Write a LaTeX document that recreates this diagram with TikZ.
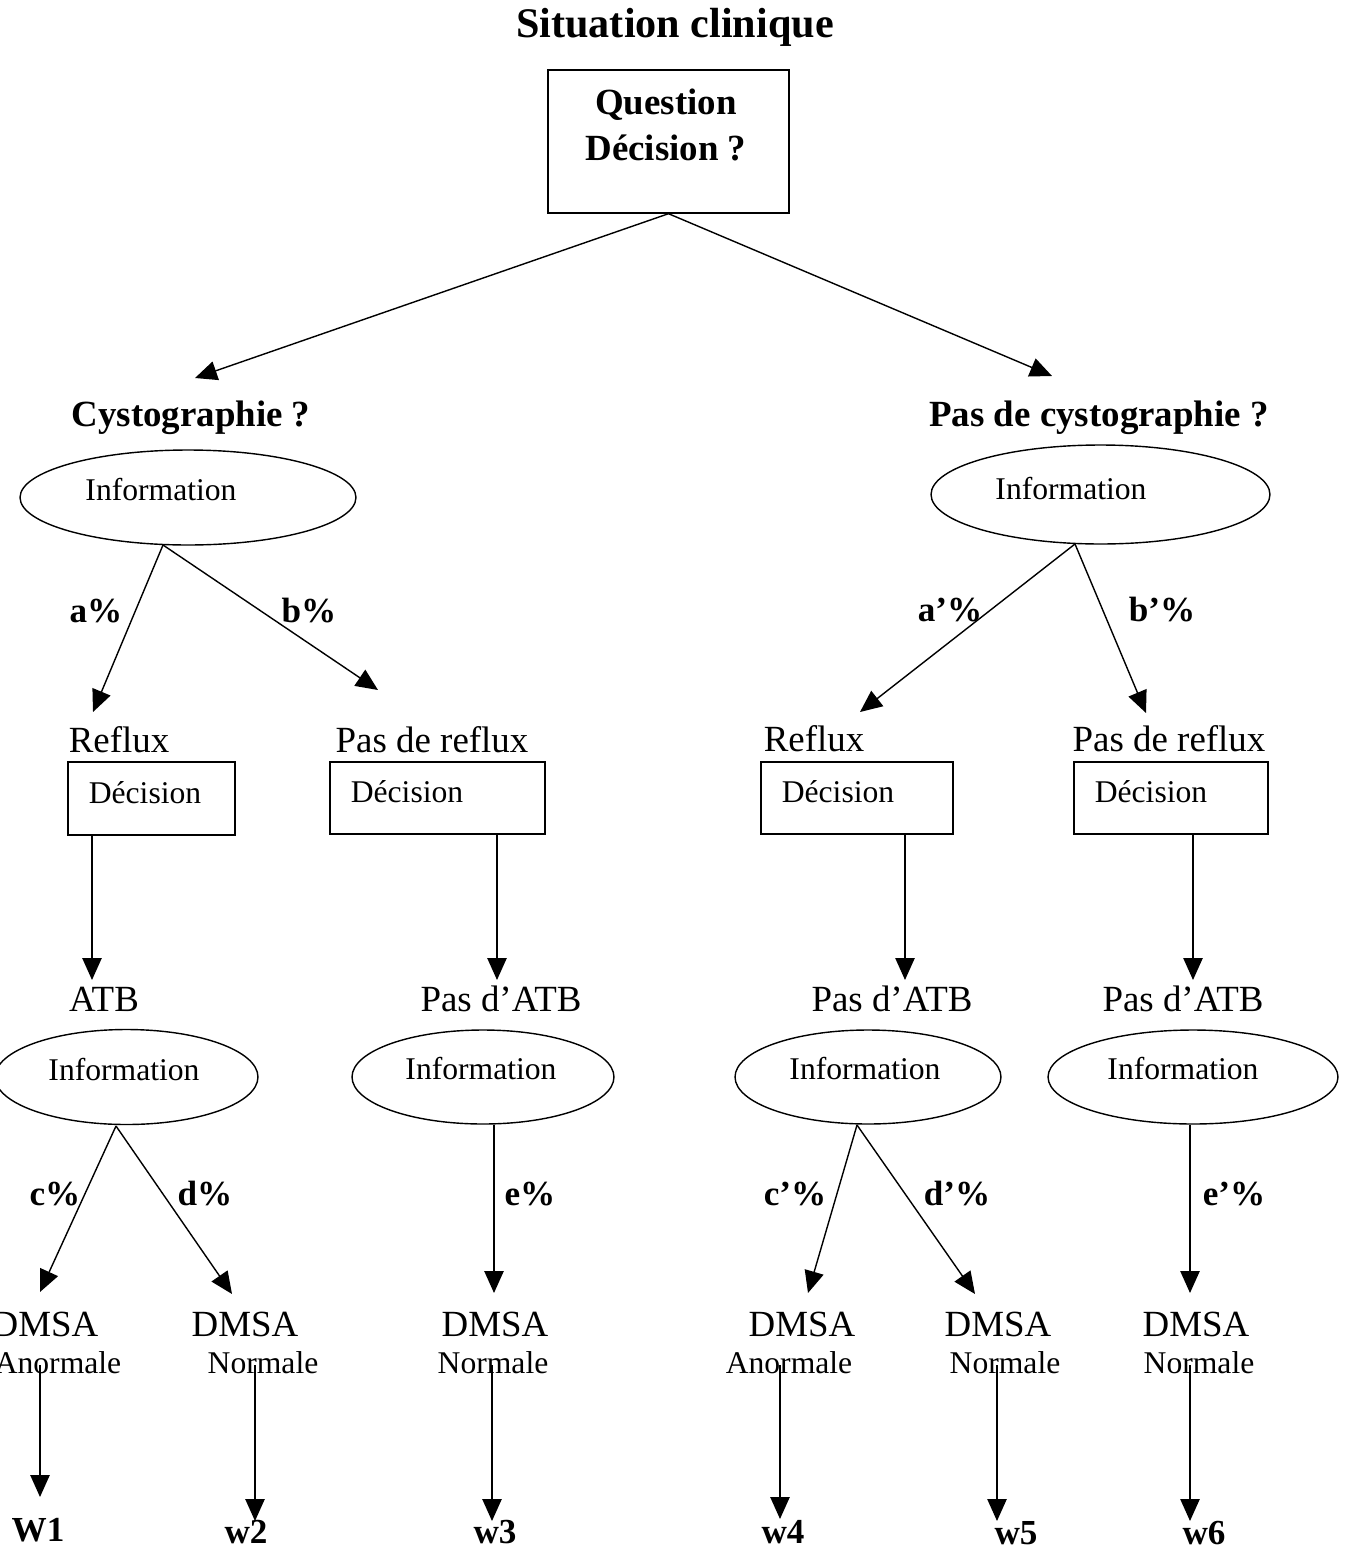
\documentclass[tikz,border=0pt]{standalone}
\usepackage{fontspec}
\setmainfont{Liberation Serif}
\usetikzlibrary{arrows.meta,shapes.geometric}
\begin{document}
\begin{tikzpicture}[x=0.02cm,y=-0.02cm,
 arr/.style={-{Triangle[length=12.5pt,width=11pt]}, line width=0.8pt},
 lbl/.style={font=\fontsize{21}{24}\selectfont, inner sep=0},
 hlbl/.style={font=\bfseries\fontsize{21}{24}\selectfont, inner sep=0},
 blbl/.style={font=\bfseries\fontsize{20}{24}\selectfont, inner sep=0},
 small/.style={font=\fontsize{18}{21}\selectfont, inner sep=0},
 ell/.style={draw, ellipse, line width=0.8pt, inner sep=0},
 box/.style={draw, rectangle, line width=0.8pt, inner sep=0}]

\useasboundingbox (0,0) rectangle (1352,1552);

% top
\node[font=\bfseries\fontsize{24}{28}\selectfont, inner sep=0] (title) at (675,27) {Situation clinique};
\node[box, minimum width=4.82cm, minimum height=2.86cm] (q) at (668.5,141.5) {};
\node[hlbl, align=center] (qt) at (666,125) {Question\\[2pt] Décision ?};

\node[hlbl] (cys) at (191,418) {Cystographie ?};
\node[hlbl] (pcys) at (1099,418) {Pas de cystographie ?};

\coordinate (t1) at (195,378);
\coordinate (t2) at (1052,376);
\draw[arr] (q.south) -- (t1);
\draw[arr] (q.south) -- (t2);

% second level ellipses
\node[ell, minimum width=6.72cm, minimum height=1.9cm] (e1) at (188,497.5) {};
\node[small] (e1t) at (161,490) {Information};
\node[ell, minimum width=6.78cm, minimum height=1.98cm] (e2) at (1100.5,494.5) {};
\node[small] (e2t) at (1071,489) {Information};

\coordinate (e1b) at (163,545);
\coordinate (e2b) at (1075,544);
\coordinate (ta1) at (93,712);
\coordinate (tb1) at (378,690);
\coordinate (ta2) at (860,712);
\coordinate (tb2) at (1146,713);
\draw[arr] (e1b) -- (ta1);
\draw[arr] (e1b) -- (tb1);
\draw[arr] (e2b) -- (ta2);
\draw[arr] (e2b) -- (tb2);
\node[blbl] (la1) at (96,611) {a\%};
\node[blbl] (lb1) at (309,611) {b\%};
\node[blbl] (la2) at (950,610) {a’\%};
\node[blbl] (lb2) at (1162,610) {b’\%};

% reflux level
\node[lbl] (r1) at (119,740) {Reflux};
\node[lbl] (r2) at (432,740) {Pas de reflux};
\node[lbl] (r3) at (814,739) {Reflux};
\node[lbl] (r4) at (1169,739) {Pas de reflux};

\node[box, minimum width=3.34cm, minimum height=1.46cm] (d1) at (151.5,798.5) {};
\node[box, minimum width=4.30cm, minimum height=1.44cm] (d2) at (437.5,798) {};
\node[box, minimum width=3.84cm, minimum height=1.44cm] (d3) at (857,798) {};
\node[box, minimum width=3.88cm, minimum height=1.44cm] (d4) at (1171,798) {};
\node[small] (d1t) at (145,793) {Décision};
\node[small] (d2t) at (407,792) {Décision};
\node[small] (d3t) at (838,792) {Décision};
\node[small] (d4t) at (1151,792) {Décision};

\coordinate (d1b) at (92,835);
\coordinate (d2b) at (497,834);
\coordinate (d3b) at (905,834);
\coordinate (d4b) at (1193,834);
\coordinate (td1) at (92,980);
\coordinate (td2) at (497,980);
\coordinate (td3) at (905,980);
\coordinate (td4) at (1193,980);
\draw[arr] (d1b) -- (td1);
\draw[arr] (d2b) -- (td2);
\draw[arr] (d3b) -- (td3);
\draw[arr] (d4b) -- (td4);

\node[lbl] (atb1) at (104,999) {ATB};
\node[lbl] (atb2) at (501,999) {Pas d’ATB};
\node[lbl] (atb3) at (892,999) {Pas d’ATB};
\node[lbl] (atb4) at (1183,999) {Pas d’ATB};

% third level ellipses
\node[ell, minimum width=5.26cm, minimum height=1.9cm] (e3) at (126.5,1077) {};
\node[ell, minimum width=5.24cm, minimum height=1.88cm] (e4) at (483,1077) {};
\node[ell, minimum width=5.32cm, minimum height=1.88cm] (e5) at (868,1077) {};
\node[ell, minimum width=5.80cm, minimum height=1.88cm] (e6) at (1193,1077) {};
\node[small] (e3t) at (124,1070) {Information};
\node[small] (e4t) at (481,1069) {Information};
\node[small] (e5t) at (865,1069) {Information};
\node[small] (e6t) at (1183,1069) {Information};

\coordinate (e3b) at (116,1126);
\coordinate (e4b) at (494,1125);
\coordinate (e5b) at (857,1125);
\coordinate (e6b) at (1190,1125);
\coordinate (tc1) at (40,1292);
\coordinate (tdd1) at (232,1294);
\coordinate (te1) at (494,1293);
\coordinate (tc2) at (808,1293);
\coordinate (tdd2) at (975,1294);
\coordinate (te2) at (1190,1293);
\draw[arr] (e3b) -- (tc1);
\draw[arr] (e3b) -- (tdd1);
\draw[arr] (e4b) -- (te1);
\draw[arr] (e5b) -- (tc2);
\draw[arr] (e5b) -- (tdd2);
\draw[arr] (e6b) -- (te2);
\node[blbl] (lc1) at (55,1194) {c\%};
\node[blbl] (ld1) at (205,1194) {d\%};
\node[blbl] (le1) at (530,1194) {e\%};
\node[blbl] (lc2) at (795,1194) {c’\%};
\node[blbl] (ld2) at (957,1194) {d’\%};
\node[blbl] (le2) at (1234,1194) {e’\%};

% DMSA
\node[lbl] (m1) at (45,1324) {DMSA};
\node[lbl] (m2) at (245,1324) {DMSA};
\node[lbl] (m3) at (495,1324) {DMSA};
\node[lbl] (m4) at (802,1324) {DMSA};
\node[lbl] (m5) at (998,1324) {DMSA};
\node[lbl] (m6) at (1196,1324) {DMSA};
\node[small] (n1) at (58,1363) {Anormale};
\node[small] (n2) at (263,1363) {Normale};
\node[small] (n3) at (493,1363) {Normale};
\node[small] (n4) at (789,1363) {Anormale};
\node[small] (n5) at (1005,1363) {Normale};
\node[small] (n6) at (1199,1363) {Normale};

\coordinate (n1s) at (40,1365);
\coordinate (n2s) at (255,1365);
\coordinate (n3s) at (492,1365);
\coordinate (n4s) at (780,1365);
\coordinate (n5s) at (997,1365);
\coordinate (n6s) at (1190,1365);
\coordinate (w1t) at (40,1497);
\coordinate (w2t) at (255,1521);
\coordinate (w3t) at (492,1521);
\coordinate (w4t) at (780,1519);
\coordinate (w5t) at (997,1521);
\coordinate (w6t) at (1190,1521);
\draw[arr] (n1s) -- (w1t);
\draw[arr] (n2s) -- (w2t);
\draw[arr] (n3s) -- (w3t);
\draw[arr] (n4s) -- (w4t);
\draw[arr] (n5s) -- (w5t);
\draw[arr] (n6s) -- (w6t);

\node[blbl] (w1) at (38,1530) {W1};
\node[blbl] (w2) at (246,1532) {w2};
\node[blbl] (w3) at (495,1532) {w3};
\node[blbl] (w4) at (783,1532) {w4};
\node[blbl] (w5) at (1016,1533) {w5};
\node[blbl] (w6) at (1204,1533) {w6};
\end{tikzpicture}
\end{document}
